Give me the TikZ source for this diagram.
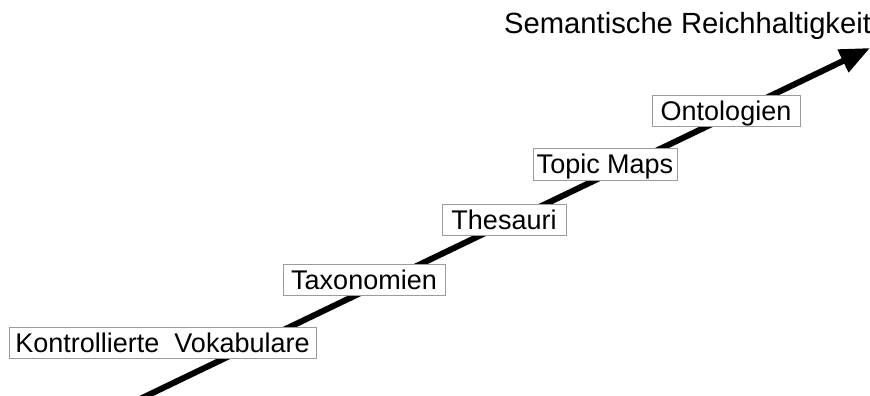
\documentclass[tikz,border=0pt]{standalone}
\usepackage{fontspec}
\setmainfont{Liberation Sans}
\usetikzlibrary{arrows.meta}
\definecolor{boxline}{RGB}{155,155,155}
\begin{document}
\begin{tikzpicture}[x=1pt,y=-1pt,
  level/.style={draw=boxline, line width=0.9pt, fill=white, inner sep=0pt,
    minimum height=31pt, text height=19.3pt, text depth=0pt,
    font=\fontsize{27}{31}\selectfont},
  scale arrow/.style={line width=6pt,
    -{Triangle[length=30pt,width=24pt]}}]
\useasboundingbox (0,0) rectangle (870,396);
% the axis of growing semantic richness
\coordinate (start) at (140,399);
\coordinate (tip) at (870,48);
\draw[scale arrow] (start) -- (tip);
\node[anchor=base west, inner sep=0pt, font=\fontsize{29.2}{33}\selectfont] (title) at (504,34) {Semantische Reichhaltigkeit};
% the levels along the axis
\node[level, minimum width=307pt] (kv) at (162.5,342.5) {Kontrollierte\ \ Vokabulare};
\node[level, minimum width=162pt] (tax) at (364,279.5) {Taxonomien};
\node[level, minimum width=124pt] (thes) at (504,219.5) {Thesauri};
\node[level, minimum width=144pt, minimum height=32pt] (tm) at (605,164) {Topic Maps};
\node[level, minimum width=148pt] (onto) at (726,110.5) {Ontologien};
\end{tikzpicture}
\end{document}
